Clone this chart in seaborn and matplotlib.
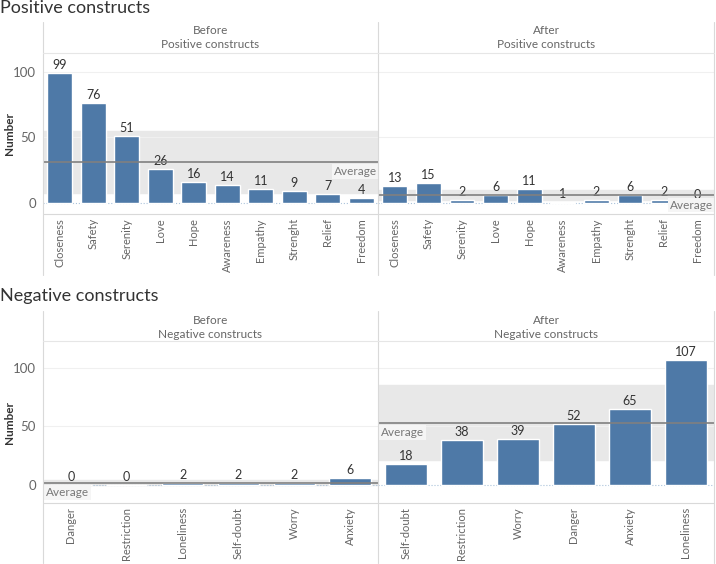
import numpy as np
import pandas as pd
import seaborn as sns
import matplotlib.pyplot as plt
from matplotlib.lines import Line2D

# ---- data ----
pos_cats = ["Closeness", "Safety", "Serenity", "Love", "Hope", "Awareness",
            "Empathy", "Strenght", "Relief", "Freedom"]
pos_before = [99, 76, 51, 26, 16, 14, 11, 9, 7, 4]
pos_after = [13, 15, 2, 6, 11, 1, 2, 6, 2, 0]

neg_before_cats = ["Danger", "Restriction", "Loneliness", "Self-doubt", "Worry", "Anxiety"]
neg_before = [0, 0, 2, 2, 2, 6]
neg_after_cats = ["Self-doubt", "Restriction", "Worry", "Danger", "Anxiety", "Loneliness"]
neg_after = [18, 38, 39, 52, 65, 107]

# two-sided 95% t critical values (n-1 dof) for the reference band
T_CRIT = {6: 2.571, 10: 2.262}

BLUE = "#4e79a7"
W, H = 716, 564

sns.set_theme(style="white")
plt.rcParams["font.family"] = ["Lato", "DejaVu Sans"]

fig = plt.figure(figsize=(W / 100, H / 100), dpi=100)


def box(x0, y0, x1, y1):
    return [x0 / W, 1 - y1 / H, (x1 - x0) / W, (y1 - y0) / H]


def fline(xs, ys, color="#d9d9d9", lw=0.8):
    fig.add_artist(Line2D([x / W for x in xs], [1 - y / H for y in ys],
                          color=color, lw=lw, transform=fig.transFigure))


def panel(rect, cats, vals, ylim, show_y, avg_side):
    ax = fig.add_axes(rect)
    df = pd.DataFrame({"construct": cats, "number": vals})
    n = len(vals)
    v = np.array(vals, dtype=float)
    mean = v.mean()
    half = T_CRIT[n] * v.std(ddof=1) / np.sqrt(n)

    ax.axhspan(mean - half, mean + half, color="#e8e8e8", zorder=0)
    for g in (50, 100):
        ax.axhline(g, color="#f0f0f0", lw=0.8, zorder=0.5)
    ax.axhline(0, color="#a9c2da", lw=0.8, ls=":", zorder=0.6)

    sns.barplot(data=df, x="construct", y="number", order=cats, color=BLUE,
                saturation=1, width=0.74, ax=ax, zorder=2)
    ax.bar_label(ax.containers[0], padding=1.5, fontsize=9, color="#333333")
    ax.axhline(mean, color="#808080", lw=1.2, zorder=3)

    if avg_side == "right":
        xy, off, ha = (n - 0.5, mean), (-1, -3), "right"
    else:
        xy, off, ha = (-0.5, mean), (2, -3), "left"
    ax.annotate("Average", xy=xy, xytext=off, textcoords="offset points",
                ha=ha, va="top", fontsize=8.5, color="#777777", zorder=4,
                bbox=dict(boxstyle="square,pad=0.15", fc="#f5f5f5", ec="none"))

    ax.set_xlim(-0.5, n - 0.5)
    ax.set_ylim(*ylim)
    ax.set_xlabel("")
    ax.set_ylabel("")
    for s in ax.spines.values():
        s.set_visible(False)
    ax.tick_params(axis="x", length=0, pad=3, labelsize=8, labelcolor="#666666",
                   rotation=90)
    if show_y:
        ax.set_yticks([0, 50, 100])
        ax.tick_params(axis="y", length=0, pad=5, labelsize=9.5, labelcolor="#666666")
    else:
        ax.set_yticks([])
    return ax


def chart(title, y_title, y_head, y_plot_top, y_plot_bot, y_end, ylim,
          before, after, avg_sides, sub):
    fig.text(0, 1 - y_title / H, title, fontsize=13, color="#333333",
             ha="left", va="center")
    # frame lines
    for x in (43, 378, 714):
        fline([x, x], [y_head, y_end])
    fline([43, 714], [y_plot_top, y_plot_top], color="#e6e6e6")
    fline([43, 714], [y_plot_bot, y_plot_bot])
    # headers
    for (x0, x1), name in (((43, 378), "Before"), ((378, 714), "After")):
        xc = (x0 + x1) / 2 / W
        fig.text(xc, 1 - (y_head + 9) / H, name, fontsize=8.5, color="#666666",
                 ha="center", va="center")
        fig.text(xc, 1 - (y_head + 23) / H, sub, fontsize=8.5, color="#666666",
                 ha="center", va="center")
    panel(box(43, y_plot_top, 378, y_plot_bot), *before, ylim, True, avg_sides[0])
    panel(box(378, y_plot_top, 714, y_plot_bot), *after, ylim, False, avg_sides[1])
    fig.text(10 / W, 1 - ((y_plot_top + y_plot_bot) / 2) / H, "Number",
             rotation=90, fontsize=8.5, fontweight="bold", color="#333333",
             ha="center", va="center")


chart("Positive constructs", 8, 22, 53, 214, 275, (-8.4, 114.5),
      (pos_cats, pos_before), (pos_cats, pos_after), ("right", "right"),
      "Positive constructs")
chart("Negative constructs", 296, 311, 341, 503, 563, (-15.4, 123),
      (neg_before_cats, neg_before), (neg_after_cats, neg_after), ("left", "left"),
      "Negative constructs")

fig.savefig("out.png", dpi=100, facecolor="white")
